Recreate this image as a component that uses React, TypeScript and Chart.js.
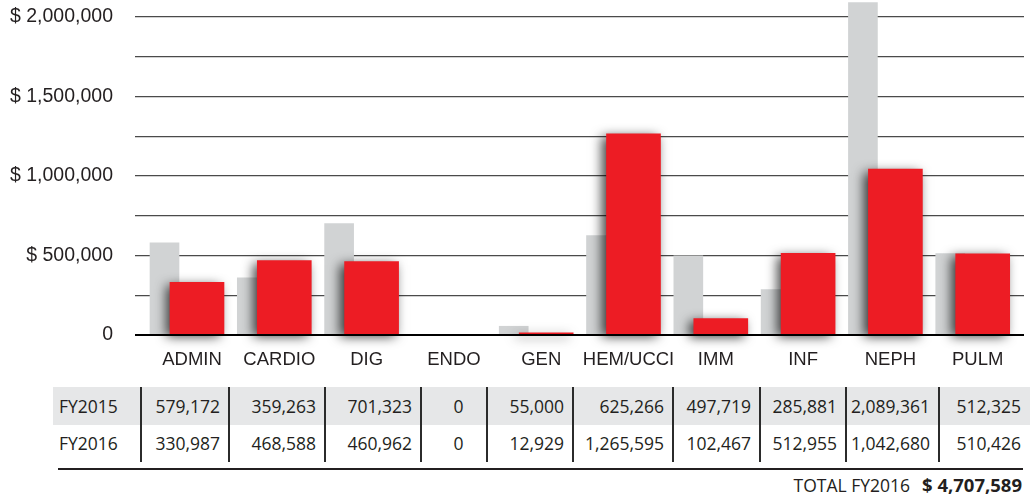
import React, { useEffect, useRef } from "react";
import { Chart, registerables } from "chart.js";

Chart.register(...registerables);

// ---- data ----
const categories = ["ADMIN", "CARDIO", "DIG", "ENDO", "GEN", "HEM/UCCI", "IMM", "INF", "NEPH", "PULM"];
const seriesNames = ["FY2015", "FY2016"];
const fy2015 = [579172, 359263, 701323, 0, 55000, 625266, 497719, 285881, 2089361, 512325];
const fy2016 = [330987, 468588, 460962, 0, 12929, 1265595, 102467, 512955, 1042680, 510426];
const yTickValues = [0, 250000, 500000, 750000, 1000000, 1250000, 1500000, 1750000, 2000000];
const yLabelValues = [0, 500000, 1000000, 1500000, 2000000];
const totalLabel = "TOTAL FY2016";

// ---- layout / style constants ----
const W = 1030;
const CANVAS_H = 375;
const RED = "#ed1c24";
const GRAY = "#d1d3d4";
const TEXT = "#231f20";
const GRAY_SHIFT = -0.315;
const RED_SHIFT = 0.057;
const colEdges = [53, 141, 229, 325, 421, 487, 573, 673, 760, 846, 939, 1030];
const rowTops = [387, 425];
const rowH = [38, 37];

const fmt = (v: number) => v.toLocaleString("en-US");

const shadowPlugin = {
  id: "barShadow",
  beforeDatasetDraw(chart: any, args: any) {
    if (args.index !== 1) return;
    const ctx = chart.ctx;
    ctx.save();
    ctx.shadowColor = "rgba(0,0,0,0.75)";
    ctx.shadowBlur = 11;
    ctx.shadowOffsetX = -4;
    ctx.shadowOffsetY = 3;
  },
  afterDatasetDraw(chart: any, args: any) {
    if (args.index !== 1) return;
    chart.ctx.restore();
  },
};

const zeroLinePlugin = {
  id: "zeroLine",
  afterDatasetsDraw(chart: any) {
    const { ctx, chartArea, scales } = chart;
    const y = scales.y.getPixelForValue(0);
    ctx.save();
    ctx.strokeStyle = "#000";
    ctx.lineWidth = 2;
    ctx.beginPath();
    ctx.moveTo(chartArea.left, y);
    ctx.lineTo(chartArea.right, y);
    ctx.stroke();
    ctx.restore();
  },
};

const noPad = (s: any) => {
  s.paddingTop = 0;
  s.paddingBottom = 0;
  s.paddingLeft = 0;
  s.paddingRight = 0;
};

const hideZero = (color: string) => (c: any) => (c.raw && c.raw.y === 0 ? "rgba(0,0,0,0)" : color);

export default function App() {
  const ref = useRef<HTMLCanvasElement | null>(null);

  useEffect(() => {
    if (!ref.current) return;
    const chart = new Chart(ref.current, {
      type: "bar",
      data: {
        datasets: [
          {
            label: seriesNames[0],
            data: fy2015.map((v, i) => ({ x: i + GRAY_SHIFT, y: v })),
            backgroundColor: hideZero(GRAY),
            barThickness: 29,
            grouped: false,
            order: 1,
          } as any,
          {
            label: seriesNames[1],
            data: fy2016.map((v, i) => ({ x: i + RED_SHIFT, y: v })),
            backgroundColor: hideZero(RED),
            barThickness: 54,
            grouped: false,
            order: 0,
            clip: false,
          } as any,
        ],
      },
      options: {
        responsive: false,
        animation: false,
        events: [],
        layout: { padding: { top: 1, right: 6, left: 0, bottom: 0 } },
        plugins: { legend: { display: false }, tooltip: { enabled: false } },
        scales: {
          x: {
            type: "linear",
            offset: false,
            min: -0.653,
            max: 9.53,
            grid: { display: false, drawTicks: false },
            border: { display: false },
            afterBuildTicks: (scale: any) => {
              scale.ticks = categories.map((_, i) => ({ value: i }));
            },
            afterFit: (scale: any) => {
              scale.height = CANVAS_H - 335;
              noPad(scale);
            },
            ticks: {
              autoSkip: false,
              maxRotation: 0,
              padding: 14,
              color: TEXT,
              font: { family: "'Liberation Sans', Arial, sans-serif", size: 18.5 },
              callback: (v: any) => categories[Math.round(Number(v))] ?? "",
            },
          },
          y: {
            type: "linear",
            min: 0,
            max: 2100000,
            afterBuildTicks: (scale: any) => {
              scale.ticks = yTickValues.map((value) => ({ value }));
            },
            afterFit: (scale: any) => {
              scale.width = 135;
              noPad(scale);
            },
            grid: {
              drawTicks: false,
              color: (c: any) => (c.tick && c.tick.value === 0 ? "#000" : "#4a4a4a"),
              lineWidth: (c: any) => (c.tick && c.tick.value === 0 ? 2 : 1.3),
            },
            border: { display: false },
            ticks: {
              padding: 22,
              color: TEXT,
              font: { family: "'Liberation Sans', Arial, sans-serif", size: 19.5 },
              callback: (v: any) => {
                const n = Number(v);
                if (!yLabelValues.includes(n)) return "";
                return n === 0 ? "0" : "$ " + fmt(n);
              },
            },
          },
        },
      },
      plugins: [shadowPlugin, zeroLinePlugin],
    } as any);
    return () => chart.destroy();
  }, []);

  const rows = [fy2015, fy2016];
  const total = fy2016.reduce((a, b) => a + b, 0);
  const tableFont = "'Open Sans', 'Noto Sans', sans-serif";

  return (
    <div style={{ position: "absolute", left: 0, top: 0, width: W, height: 497, background: "#fff", overflow: "hidden" }}>
      <canvas ref={ref} width={W} height={CANVAS_H} style={{ display: "block", position: "absolute", left: 0, top: 0 }} />
      <div style={{ position: "absolute", left: colEdges[0], top: rowTops[0], width: colEdges[colEdges.length - 1] - colEdges[0], height: rowH[0], background: "#e6e7e8" }} />
      {rows.map((row, r) => (
        <React.Fragment key={r}>
          <div
            style={{
              position: "absolute",
              left: colEdges[0] + 6,
              top: rowTops[r],
              height: rowH[r],
              lineHeight: rowH[r] + "px",
              fontFamily: tableFont,
              fontSize: 17.5,
              color: TEXT,
              whiteSpace: "nowrap",
            }}
          >
            {seriesNames[r]}
          </div>
          {row.map((v, c) => (
            <div
              key={c}
              style={{
                position: "absolute",
                left: colEdges[c + 1],
                top: rowTops[r],
                width: colEdges[c + 2] - colEdges[c + 1] - 9,
                height: rowH[r],
                lineHeight: rowH[r] + "px",
                textAlign: v === 0 ? "center" : "right",
                paddingLeft: v === 0 ? 9 : 0,
                boxSizing: "content-box",
                fontFamily: tableFont,
                fontSize: 17.5,
                color: TEXT,
                whiteSpace: "nowrap",
              }}
            >
              {fmt(v)}
            </div>
          ))}
        </React.Fragment>
      ))}
      {colEdges.slice(1, colEdges.length - 1).map((x, i) => (
        <div key={"s" + i} style={{ position: "absolute", left: x - 1, top: rowTops[0], width: 2, height: 75, background: "#2b2b2b" }} />
      ))}
      <div style={{ position: "absolute", left: 58, top: 468, width: 965, height: 2, background: "#231f20" }} />
      <div
        style={{
          position: "absolute",
          right: W - 1022,
          top: 474,
          height: 22,
          lineHeight: "22px",
          fontFamily: tableFont,
          fontSize: 17.5,
          color: TEXT,
          whiteSpace: "nowrap",
        }}
      >
        {totalLabel}
        <span style={{ fontWeight: 700, fontSize: 18.5, marginLeft: 12 }}>{"$ " + fmt(total)}</span>
      </div>
    </div>
  );
}
